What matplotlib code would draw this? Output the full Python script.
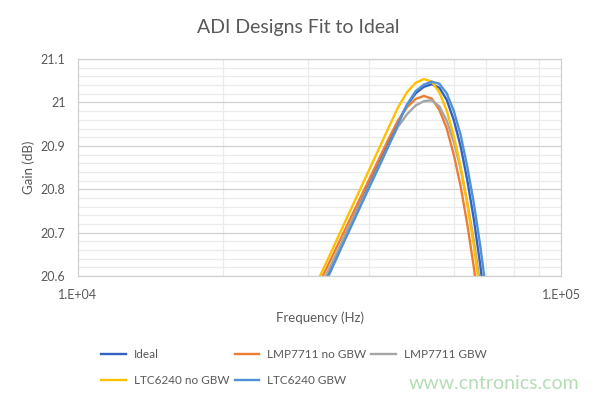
import matplotlib
matplotlib.use("Agg")
import matplotlib.pyplot as plt
from matplotlib.ticker import FixedLocator, MultipleLocator, NullFormatter

# frequency points (Hz)
freq = [30e3, 33e3, 36e3, 40e3, 42e3, 44e3, 46e3, 48e3, 50e3, 52e3,
        54e3, 56e3, 58e3, 60e3, 62e3, 64e3, 66e3, 68e3, 70e3]

# gain (dB) for each design
ideal = [20.509, 20.608, 20.700, 20.810, 20.860, 20.909, 20.956, 20.994, 21.021, 21.036,
         21.042, 21.034, 21.006, 20.959, 20.898, 20.820, 20.731, 20.628, 20.515]
lmp_no_gbw = [20.532, 20.627, 20.715, 20.821, 20.870, 20.917, 20.959, 20.989, 21.008, 21.015,
              21.009, 20.983, 20.940, 20.879, 20.806, 20.718, 20.620, 20.510, 20.390]
lmp_gbw = [20.518, 20.613, 20.701, 20.806, 20.855, 20.902, 20.944, 20.973, 20.993, 21.003,
           21.005, 20.991, 20.958, 20.909, 20.846, 20.769, 20.681, 20.582, 20.472]
ltc_no_gbw = [20.543, 20.642, 20.733, 20.843, 20.894, 20.943, 20.989, 21.024, 21.045, 21.054,
              21.048, 21.023, 20.981, 20.922, 20.851, 20.765, 20.670, 20.563, 20.446]
ltc_gbw = [20.501, 20.600, 20.692, 20.802, 20.852, 20.901, 20.950, 20.995, 21.026, 21.041,
           21.048, 21.043, 21.021, 20.980, 20.924, 20.851, 20.768, 20.672, 20.565]

plt.rcParams['font.family'] = ['Lato', 'DejaVu Sans']
text_col = '#595959'

fig = plt.figure(figsize=(6, 3.99), dpi=100)
ax = fig.add_axes([0.13, 0.308, 0.805, 0.544])

ax.plot(freq, ideal, color='#3461C0', lw=1.7, label='Ideal')
ax.plot(freq, lmp_no_gbw, color='#ED7D31', lw=1.7, label='LMP7711 no GBW')
ax.plot(freq, lmp_gbw, color='#A5A5A5', lw=1.7, label='LMP7711 GBW')
ax.plot(freq, ltc_no_gbw, color='#FFC000', lw=1.7, label='LTC6240 no GBW')
ax.plot(freq, ltc_gbw, color='#4F93D6', lw=1.7, label='LTC6240 GBW')

ax.set_xscale('log')
ax.set_xlim(1e4, 1e5)
ax.set_ylim(20.6, 21.1)

ax.xaxis.set_major_locator(FixedLocator([1e4, 1e5]))
ax.xaxis.set_minor_locator(FixedLocator([k * 1e4 for k in range(2, 10)]))
ax.xaxis.set_minor_formatter(NullFormatter())
ax.set_xticklabels(['1.E+04', '1.E+05'])
ax.yaxis.set_major_locator(MultipleLocator(0.1))
ax.yaxis.set_minor_locator(MultipleLocator(0.02))
ax.set_yticks([20.6, 20.7, 20.8, 20.9, 21.0, 21.1])
ax.set_yticklabels(['20.6', '20.7', '20.8', '20.9', '21', '21.1'])

ax.grid(True, which='major', axis='y', color='#d0d0d0', lw=0.9)
ax.grid(True, which='minor', axis='both', color='#ebebeb', lw=0.9)
ax.set_axisbelow(True)
ax.tick_params(which='both', length=0, labelsize=9, colors=text_col)
ax.tick_params(axis='x', pad=9)
ax.tick_params(axis='y', pad=9)
for s in ax.spines.values():
    s.set_color('#d0d0d0')
    s.set_linewidth(0.9)

fig.text(0.497, 0.93, 'ADI Designs Fit to Ideal', fontsize=14, color=text_col,
         ha='center', va='center')
ax.set_xlabel('Frequency (Hz)', fontsize=9.5, color=text_col, labelpad=8)
ax.set_ylabel('Gain (dB)', fontsize=9.5, color=text_col, labelpad=4)

h, l = ax.get_legend_handles_labels()
order = [0, 3, 1, 4, 2]
leg = fig.legend([h[i] for i in order], [l[i] for i in order], ncol=3,
                 loc='center', bbox_to_anchor=(0.49, 0.078), frameon=False,
                 fontsize=8.5, handlelength=2.1, handletextpad=0.65,
                 columnspacing=0.45, labelspacing=1.25)
for t in leg.get_texts():
    t.set_color(text_col)

fig.text(0.965, 0.04, 'www.cntronics.com', color='#b5ddb5', fontsize=14,
         ha='right', va='center')

fig.savefig('out.png', dpi=100)
